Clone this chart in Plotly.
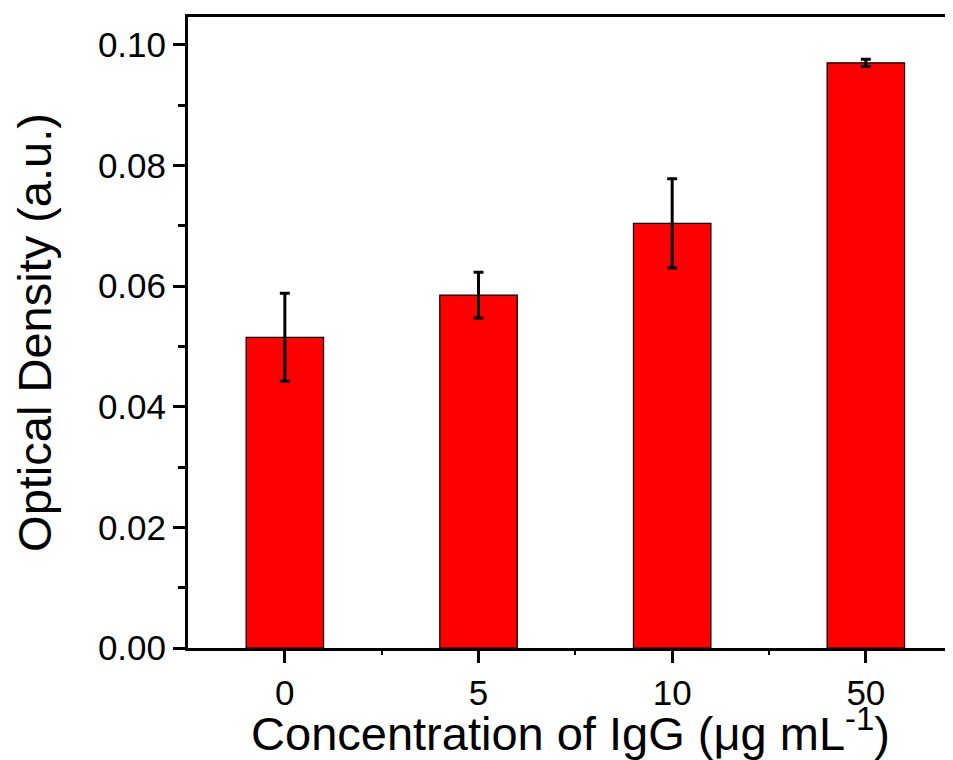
import plotly.graph_objects as go

categories = ["0", "5", "10", "50"]
values = [0.0515, 0.0585, 0.0704, 0.0970]
errors = [0.0073, 0.0038, 0.0074, 0.0006]
y_ticks = [0.00, 0.02, 0.04, 0.06, 0.08, 0.10]
y_tick_labels = ["0.00", "0.02", "0.04", "0.06", "0.08", "0.10"]

FONT = "Liberation Sans, Arial, sans-serif"

fig = go.Figure()
fig.add_trace(go.Bar(
    x=list(range(len(categories))),
    y=values,
    width=0.4,
    marker=dict(color="#FF0000", line=dict(color="#000000", width=1.2)),
    error_y=dict(type="data", array=errors, visible=True, color="#000000",
                 thickness=3, width=5),
))

# page body has an 8px default margin, so the figure is sized to compensate
fig.update_layout(
    width=945, height=752,
    margin=dict(l=180, r=0, t=9, b=112),
    paper_bgcolor="white", plot_bgcolor="white",
    showlegend=False,
)
fig.update_xaxes(
    automargin=False,
    range=[-0.5, 3.45],
    tickmode="array",
    tickvals=list(range(len(categories))),
    ticktext=categories,
    showline=True, linecolor="black", linewidth=3, mirror=True,
    ticks="outside", ticklen=12, tickwidth=3, tickcolor="black",
    minor=dict(tickvals=[0.5, 1.5, 2.5], ticks="outside", ticklen=4,
               tickwidth=2, tickcolor="black"),
    showgrid=False, zeroline=False,
    tickfont=dict(family=FONT, size=35, color="black"),
    title=dict(text="Concentration of IgG (μg mL<sup>-1</sup>)",
               font=dict(family=FONT, size=47, color="black"),
               standoff=2),
)
fig.update_yaxes(
    automargin=False,
    range=[0, 0.1046],
    tickmode="array",
    tickvals=y_ticks,
    ticktext=y_tick_labels,
    showline=True, linecolor="black", linewidth=3, mirror=False,
    ticks="outside", ticklen=12, tickwidth=3, tickcolor="black",
    minor=dict(tickvals=[0.01, 0.03, 0.05, 0.07, 0.09], ticks="outside",
               ticklen=7, tickwidth=3, tickcolor="black"),
    showgrid=False, zeroline=False,
    tickfont=dict(family=FONT, size=35, color="black"),
    title=dict(text="Optical Density (a.u.)",
               font=dict(family=FONT, size=47, color="black"),
               standoff=35),
)

fig.write_html("out.html")
